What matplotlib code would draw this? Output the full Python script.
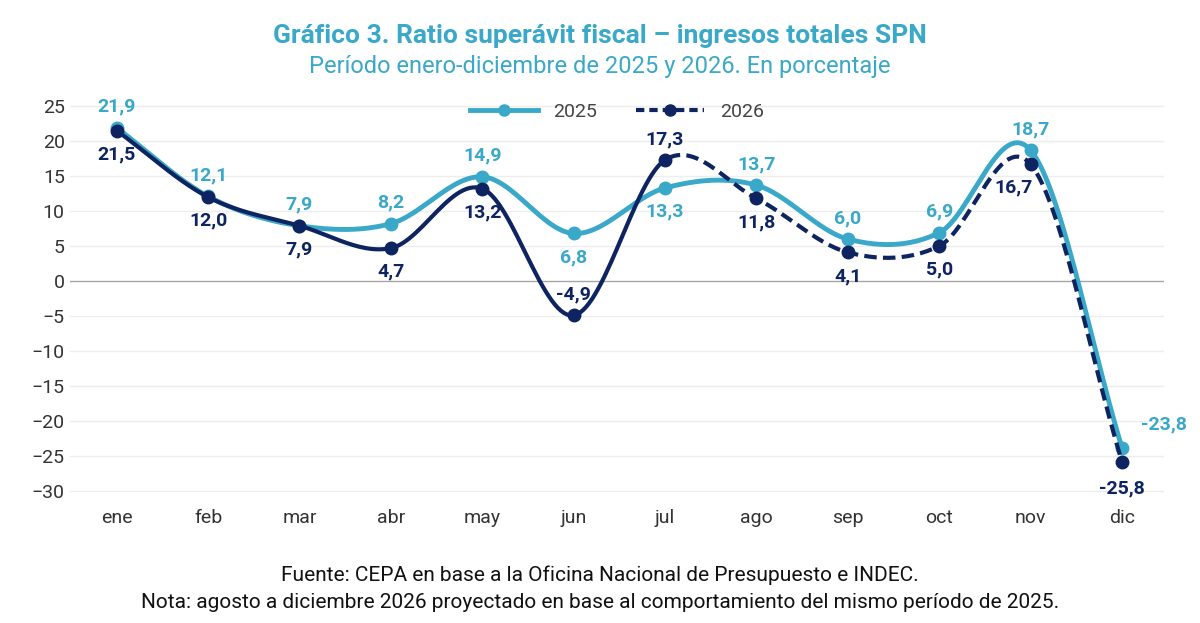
import numpy as np
import matplotlib
matplotlib.use("Agg")
import matplotlib.pyplot as plt

plt.rcParams['font.family'] = ['Roboto', 'DejaVu Sans']

months = ["ene","feb","mar","abr","may","jun","jul","ago","sep","oct","nov","dic"]
s2025 = [21.9, 12.1, 7.9, 8.2, 14.9, 6.8, 13.3, 13.7, 6.0, 6.9, 18.7, -23.8]
s2026 = [21.5, 12.0, 7.9, 4.7, 13.2, -4.9, 17.3, 11.8, 4.1, 5.0, 16.7, -25.8]

C25 = "#3AA8C8"
C26 = "#0D2461"

def spline(x, y, n=30):
    x = np.asarray(x, float); y = np.asarray(y, float)
    m = np.zeros_like(y)
    m[1:-1] = (y[2:] - y[:-2]) / (x[2:] - x[:-2])
    m[0] = y[1] - y[0]; m[-1] = y[-1] - y[-2]
    xs, ys = [], []
    for i in range(len(x) - 1):
        t = np.linspace(0, 1, n)
        h = x[i+1] - x[i]
        h00 = 2*t**3 - 3*t**2 + 1; h10 = t**3 - 2*t**2 + t
        h01 = -2*t**3 + 3*t**2; h11 = t**3 - t**2
        xs.append(x[i] + t*h)
        ys.append(h00*y[i] + h10*h*m[i] + h01*y[i+1] + h11*h*m[i+1])
    return np.concatenate(xs), np.concatenate(ys)

fig = plt.figure(figsize=(12, 6.23), dpi=100)
ax = fig.add_axes([0.058, 0.2006, 0.912, 0.646])
x = np.arange(12)

for v in range(-30, 30, 5):
    ax.axhline(v, color="#EDEDED" if v != 0 else "#A6A6A6", lw=1, zorder=0)

sx, sy = spline(x, s2025)
ax.plot(sx, sy, color=C25, lw=3.5, zorder=2)
ax.plot(x, s2025, 'o', color=C25, ms=9, zorder=3)

tx, ty = spline(x, s2026)
solid = tx <= 6
ax.plot(tx[solid], ty[solid], color=C26, lw=3, zorder=4)
ax.plot(tx[~solid], ty[~solid], color=C26, lw=3, ls=(0, (3, 1.5)), zorder=4)
ax.plot(x, s2026, 'o', color=C26, ms=9, zorder=5)

fmt = lambda v: f"{v:.1f}".replace(".", ",")
up25 = {5: -1, 6: -1}
for i, v in enumerate(s2025):
    off = 15 if up25.get(i, 1) > 0 else -17
    dx = 0
    if i == 11:
        off, dx = 17, 30
    ax.annotate(fmt(v), (i, v), xytext=(dx, off), textcoords="offset points",
                ha="center", va="center", color=C25, fontsize=14, fontweight="bold")
for i, v in enumerate(s2026):
    off = -17; dx = 0
    if i in (5, 6):
        off = 15
    if i == 10:
        dx = -12
    if i == 11:
        off = -19
    ax.annotate(fmt(v), (i, v), xytext=(dx, off), textcoords="offset points",
                ha="center", va="center", color=C26, fontsize=14, fontweight="bold")

ax.set_xlim(-0.515, 11.46)
ax.set_ylim(-31, 26.5)
ax.set_yticks(range(-30, 30, 5))
ax.set_xticks(x)
ax.set_xticklabels(months)
ax.tick_params(length=0, labelsize=14, colors="#333333")
ax.tick_params(axis='x', pad=8)
for s in ax.spines.values():
    s.set_visible(False)

from matplotlib.lines import Line2D
h1 = Line2D([], [], color=C25, lw=3.5, marker='o', ms=8)
h2 = Line2D([], [], color=C26, lw=3, ls=(0, (2, 1.2)), marker='o', ms=8)
ax.legend([h1, h2], ["2025", "2026"], loc="upper center", bbox_to_anchor=(0.5, 1.025),
          ncol=2, frameon=False, fontsize=14, handlelength=3.5, columnspacing=2,
          labelcolor="#444444")

fig.text(0.5, 0.943, "Gráfico 3. Ratio superávit fiscal – ingresos totales SPN",
         ha="center", va="center", color=C25, fontsize=19, fontweight="bold")
fig.text(0.5, 0.893, "Período enero-diciembre de 2025 y 2026. En porcentaje",
         ha="center", va="center", color=C25, fontsize=17)
fig.text(0.5, 0.077, "Fuente: CEPA en base a la Oficina Nacional de Presupuesto e INDEC.",
         ha="center", va="center", color="#111111", fontsize=15)
fig.text(0.5, 0.033, "Nota: agosto a diciembre 2026 proyectado en base al comportamiento del mismo período de 2025.",
         ha="center", va="center", color="#111111", fontsize=15)

fig.savefig("out.png", dpi=100, facecolor="white")
